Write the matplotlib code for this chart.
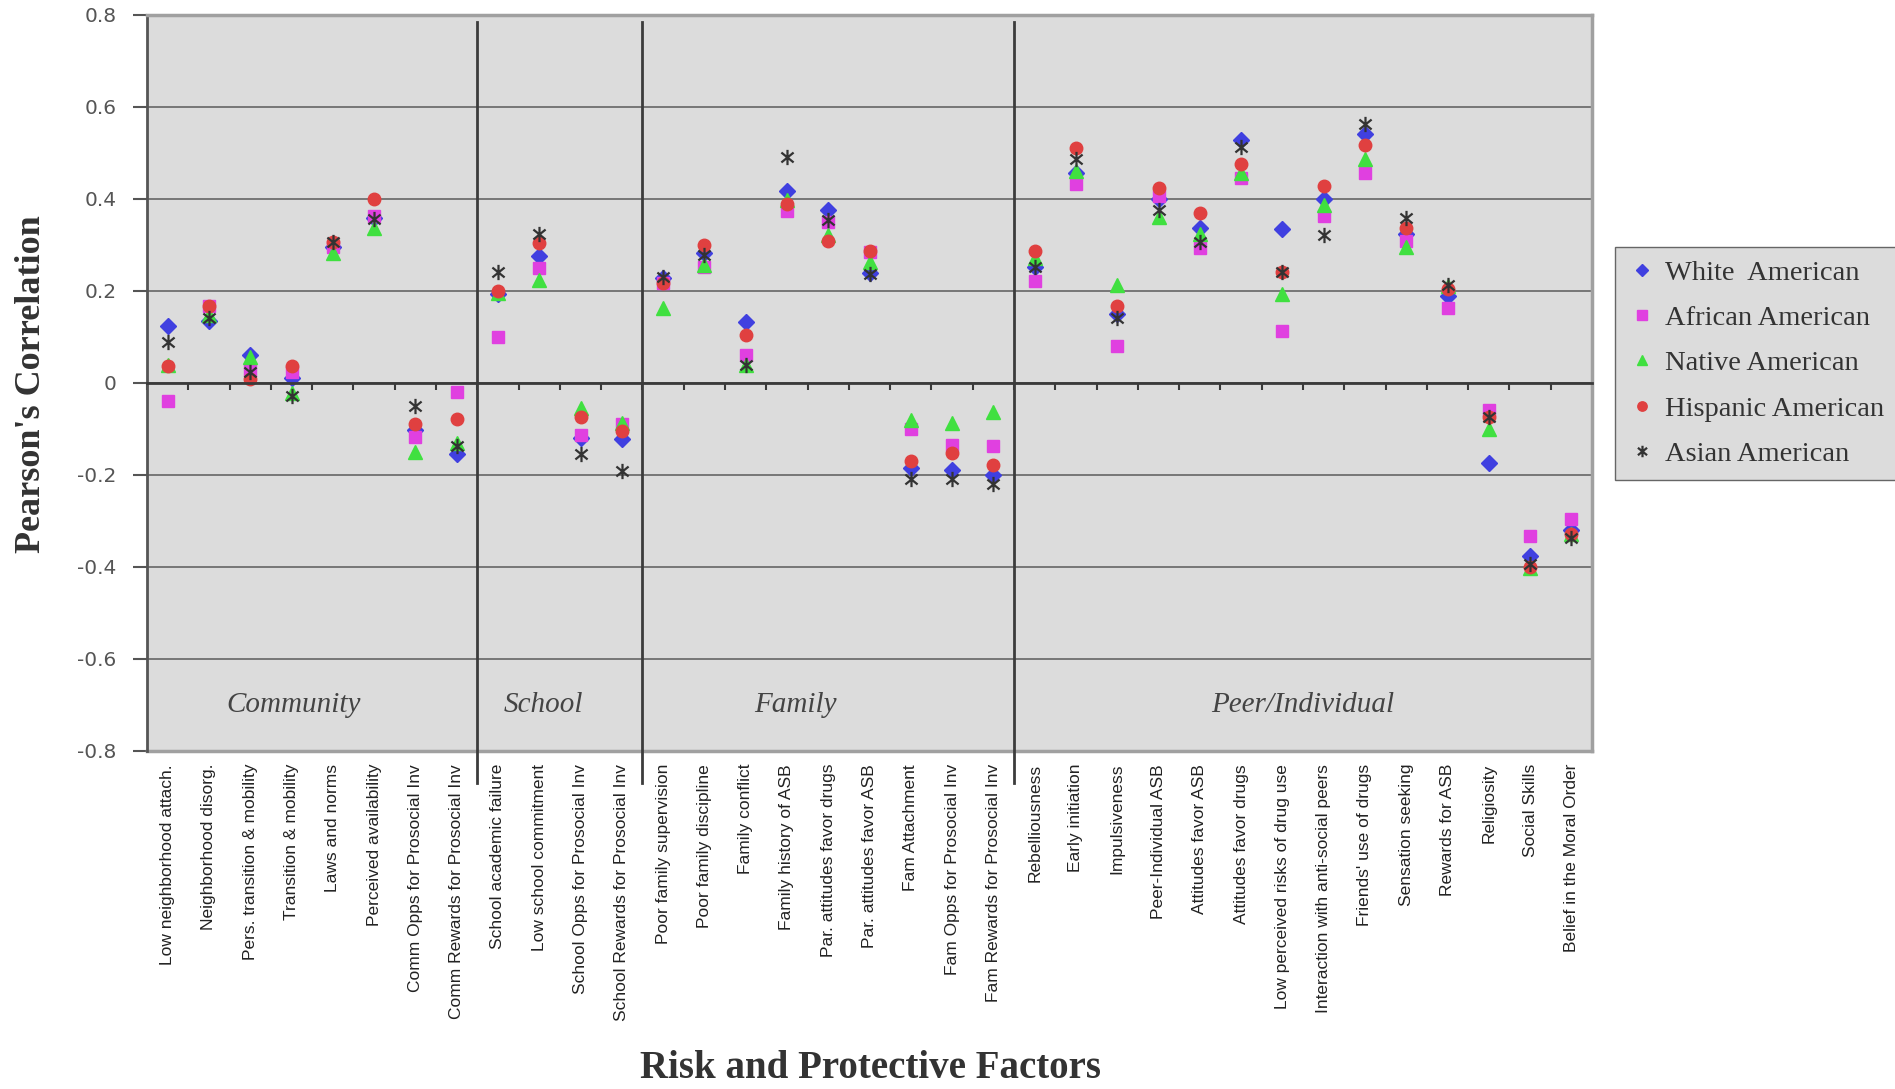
import numpy as np
import matplotlib.pyplot as plt
from matplotlib.path import Path

# risk / protective factors, grouped by domain
categories = [
    'Low neighborhood attach.', 'Neighborhood disorg.', 'Pers. transition & mobility',
    'Transition & mobility', 'Laws and norms', 'Perceived availability',
    'Comm Opps for Prosocial Inv', 'Comm Rewards for Prosocial Inv',
    'School academic failure', 'Low school commitment', 'School Opps for Prosocial Inv',
    'School Rewards for Prosocial Inv',
    'Poor family supervision', 'Poor family discipline', 'Family conflict',
    'Family history of ASB', 'Par. attitudes favor drugs', 'Par. attitudes favor ASB',
    'Fam Attachment', 'Fam Opps for Prosocial Inv', 'Fam Rewards for Prosocial Inv',
    'Rebelliousness', 'Early initiation', 'Impulsiveness', 'Peer-Individual ASB',
    'Attitudes favor ASB', 'Attitudes favor drugs', 'Low perceived risks of drug use',
    'Interaction with anti-social peers', "Friends' use of drugs", 'Sensation seeking',
    'Rewards for ASB', 'Religiosity', 'Social Skills', 'Belief in the Moral Order',
]
sections = ['Community', 'School', 'Family', 'Peer/Individual']
section_sizes = [8, 4, 9, 14]

white = [0.125, 0.135, 0.06, 0.01, 0.295, 0.358, -0.103, -0.155,
         0.193, 0.277, -0.12, -0.122,
         0.228, 0.282, 0.133, 0.418, 0.377, 0.24, -0.185, -0.19, -0.2,
         0.253, 0.457, 0.15, 0.40, 0.338, 0.528, 0.334, 0.401, 0.541, 0.323, 0.19,
         -0.174, -0.375, -0.319]
african = [-0.04, 0.168, 0.028, 0.025, 0.296, 0.362, -0.117, -0.02,
           0.101, 0.249, -0.112, -0.09,
           0.217, 0.253, 0.061, 0.375, 0.349, 0.284, -0.101, -0.134, -0.136,
           0.221, 0.432, 0.081, 0.406, 0.294, 0.445, 0.114, 0.362, 0.457, 0.309, 0.163,
           -0.058, -0.333, -0.296]
native = [0.04, 0.148, 0.056, -0.022, 0.282, 0.336, -0.151, -0.13,
          0.195, 0.224, -0.054, -0.087,
          0.163, 0.257, 0.040, 0.398, 0.322, 0.264, -0.08, -0.087, -0.062,
          0.271, 0.461, 0.213, 0.360, 0.325, 0.456, 0.193, 0.387, 0.486, 0.296, 0.21,
          -0.100, -0.402, -0.328]
hispanic = [0.036, 0.168, 0.009, 0.036, 0.307, 0.399, -0.089, -0.078,
            0.2, 0.304, -0.073, -0.105,
            0.217, 0.299, 0.105, 0.390, 0.309, 0.288, -0.17, -0.152, -0.178,
            0.288, 0.511, 0.168, 0.424, 0.370, 0.477, 0.242, 0.428, 0.518, 0.336, 0.204,
            -0.073, -0.399, -0.328]
asian = [0.09, 0.141, 0.025, -0.029, 0.307, 0.356, -0.051, -0.138,
         0.242, 0.323, -0.154, -0.192,
         0.231, 0.278, 0.04, 0.492, 0.354, 0.237, -0.209, -0.209, -0.22,
         0.253, 0.488, 0.141, 0.376, 0.306, 0.513, 0.242, 0.322, 0.563, 0.358, 0.213,
         -0.074, -0.393, -0.337]

# excel style asterisk: vertical bar plus an X
star = Path([(0, -1), (0, 1), (-0.8, -0.65), (0.8, 0.65), (-0.8, 0.65), (0.8, -0.65)],
            [Path.MOVETO, Path.LINETO] * 3)

W, H = 1895, 1089
fig = plt.figure(figsize=(W / 100, H / 100), dpi=100)
ax = fig.add_axes([147 / W, 1 - 751 / H, (1592 - 147) / W, (751 - 15) / H])

n = len(categories)
x = np.arange(1, n + 1)
ax.set_xlim(0.5, n + 0.5)
ax.set_ylim(-0.8, 0.8)
ax.set_facecolor('#dcdcdc')

yt = np.round(np.arange(-0.8, 0.81, 0.2), 1)
ax.set_yticks(yt)
ax.set_yticklabels(['0' if v == 0 else '%.1f' % v for v in yt])
ax.yaxis.grid(True, color='#6f6f6f', lw=1.3)
ax.set_axisbelow(True)
ax.tick_params(axis='y', length=10, width=1.5, color='#555555', pad=12,
               labelsize=14.5, labelcolor='#555555')

for s in ['top', 'right']:
    ax.spines[s].set_color('#a0a0a0')
    ax.spines[s].set_linewidth(2.5)
ax.spines['left'].set_color('#555555')
ax.spines['left'].set_linewidth(2)
ax.spines['bottom'].set_position(('data', 0))
ax.spines['bottom'].set_color('#3a3a3a')
ax.spines['bottom'].set_linewidth(2)
ax.axhline(-0.8, color='#a0a0a0', lw=2.5, clip_on=False, zorder=1.5)

ax.set_xticks(np.arange(0.5, n + 1))
ax.tick_params(axis='x', direction='out', length=5, width=1.5, color='#3a3a3a',
               labelbottom=False)

# domain separators
bounds = np.cumsum(section_sizes)[:-1] + 0.5
for b in bounds:
    ax.plot([b, b], [0.785, -0.87], color='#3c3c3c', lw=2, clip_on=False, zorder=1.6)

label_x = [4.05, 10.1, 16.2, 28.5]
for name, lx in zip(sections, label_x):
    ax.text(lx, -0.7, name, style='italic', family='Liberation Serif', fontsize=21,
            color='#444444', ha='center', va='center')

for i, lab in enumerate(categories):
    ax.text(x[i], -0.828, lab, rotation=90, ha='center', va='top', fontsize=12.5,
            family='Liberation Sans', color='#222222')

ax.plot(x, white, ls='none', marker='D', ms=8, color='#4040e0', label='White  American')
ax.plot(x, african, ls='none', marker='s', ms=9, color='#e040e0', label='African American')
ax.plot(x, native, ls='none', marker='^', ms=10, color='#40e040', label='Native American')
ax.plot(x, hispanic, ls='none', marker='o', ms=9, color='#e04040', label='Hispanic American')
ax.plot(x, asian, ls='none', marker=star, ms=11, mew=1.6, color='#333333',
        label='Asian American')

leg = fig.legend(loc='upper left', bbox_to_anchor=(1615 / W, 1 - 247 / H),
                 prop={'family': 'Liberation Serif', 'size': 20.5},
                 facecolor='#dcdcdc', edgecolor='#666666', framealpha=1, fancybox=False,
                 labelspacing=0.68, handletextpad=0.3, handlelength=1.0,
                 borderpad=0.45, markerscale=0.75, borderaxespad=0)
for t in leg.get_texts():
    t.set_color('#333333')

fig.text(32 / W, 1 - 384 / H, "Pearson's Correlation", rotation=90, ha='center',
         va='center', family='Liberation Serif', weight='bold', fontsize=26,
         color='#333333')
fig.text(870 / W, 1 - 1069 / H, 'Risk and Protective Factors', ha='center', va='center',
         family='Liberation Serif', weight='bold', fontsize=28, color='#333333')

fig.savefig('out.png', dpi=100)
